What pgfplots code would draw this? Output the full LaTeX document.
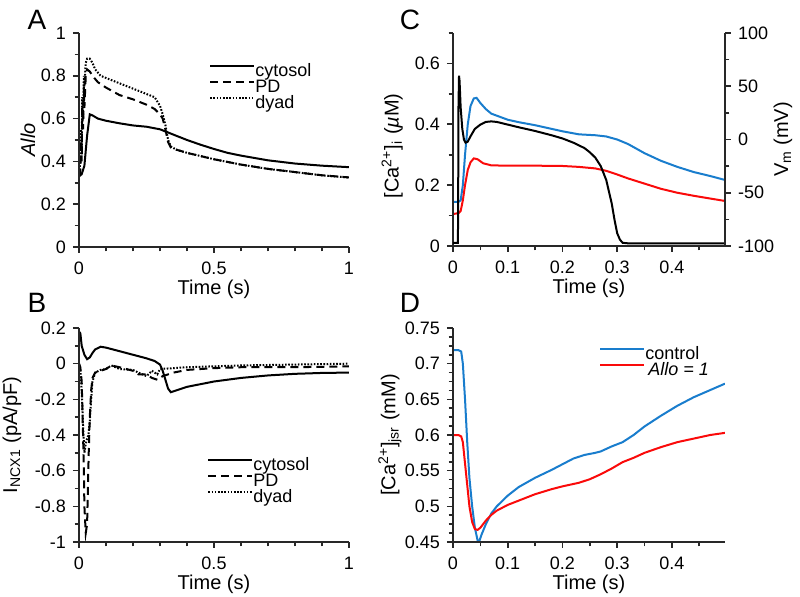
\documentclass[border=0pt]{standalone}
\usepackage{pgfplots}
\pgfplotsset{compat=1.18}
\usepackage{fontspec}
\setmainfont{Liberation Sans}
\definecolor{mblue}{RGB}{25,125,205}
\definecolor{mred}{RGB}{250,10,10}
\definecolor{axgray}{RGB}{40,40,40}
\pgfplotsset{
  every axis/.append style={
    scale only axis,
    anchor=south west,
    axis line style={draw=none},
    xtick pos=left, ytick pos=left,
    tick align=outside,
    tick style={axgray, line width=0.8pt},
    major tick length=3pt,
    minor tick length=2.2pt,
    /pgf/number format/assume math mode=true,
    tick label style={font=\fontsize{9}{11}\selectfont},
    xticklabel style={yshift=-1pt},
    label style={font=\fontsize{10}{12}\selectfont},
    xlabel={Time (s)},
    xlabel style={yshift=4.5pt},
    ylabel style={anchor=center},
    legend cell align=left,
    legend image code/.code={\draw[#1] (0pt,2.8pt) -- (22pt,2.8pt);},
    legend style={draw=none, fill=none, font=\fontsize{9}{11}\selectfont,
      anchor=north west, row sep=0pt, inner sep=0pt,
      nodes={inner sep=0pt, text height=6.5pt, text depth=1.5pt, outer sep=0pt}},
  },
  lbaxes/.style={after end axis/.code={\draw[axgray, line width=0.7pt] (rel axis cs:0,1) -- (rel axis cs:0,0) -- (rel axis cs:1,0);}},
  sol/.style={black, line width=1pt},
  pd/.style={black, line width=1pt, dash pattern=on 4pt off 2.5pt},
  dy/.style={black, line width=1pt, dash pattern=on 0.8pt off 0.8pt},
}
\begin{document}
\begin{tikzpicture}
\useasboundingbox (0,0) rectangle (400pt,298pt);

% ---------------- Panel A ----------------
\begin{axis}[lbaxes, at={(39.5pt,174.5pt)}, width=135pt, height=107pt,
  xmin=0, xmax=1, ymin=0, ymax=1,
  xtick={0,0.5,1}, minor xtick={0.1,0.2,0.3,0.4,0.6,0.7,0.8,0.9},
  ytick={0,0.2,0.4,0.6,0.8,1}, minor ytick={0.1,0.3,0.5,0.7,0.9},
  ylabel={\textit{Allo}},
  ylabel style={at={(axis description cs:-0.189,0.5)}},
  legend style={at={(0.481,0.859)}},
]
\addplot[sol] coordinates {(0,0.33)(0.01,0.34)(0.02,0.38)(0.03,0.52)(0.04,0.62)(0.05,0.615)(0.07,0.60)(0.1,0.59)(0.15,0.578)(0.2,0.568)(0.25,0.562)(0.3,0.55)(0.32,0.54)(0.35,0.525)(0.4,0.5)(0.45,0.478)(0.5,0.458)(0.55,0.44)(0.6,0.427)(0.7,0.405)(0.8,0.39)(0.9,0.38)(1.0,0.373)};
\addlegendentry{cytosol}
\addplot[pd] coordinates {(0,0.33)(0.005,0.35)(0.008,0.5)(0.01,0.4)(0.012,0.65)(0.015,0.55)(0.018,0.75)(0.02,0.65)(0.025,0.8)(0.03,0.83)(0.04,0.82)(0.05,0.80)(0.07,0.77)(0.1,0.745)(0.15,0.71)(0.2,0.69)(0.25,0.665)(0.28,0.645)(0.3,0.62)(0.31,0.6)(0.32,0.55)(0.33,0.49)(0.34,0.465)(0.36,0.455)(0.4,0.44)(0.45,0.425)(0.5,0.41)(0.6,0.385)(0.7,0.365)(0.8,0.35)(0.9,0.335)(1.0,0.325)};
\addlegendentry{PD}
\addplot[dy] coordinates {(0,0.33)(0.005,0.4)(0.008,0.55)(0.01,0.45)(0.012,0.7)(0.015,0.6)(0.018,0.8)(0.02,0.75)(0.025,0.86)(0.03,0.88)(0.04,0.88)(0.05,0.86)(0.06,0.83)(0.08,0.8)(0.1,0.79)(0.15,0.765)(0.2,0.74)(0.25,0.715)(0.28,0.7)(0.3,0.66)(0.31,0.62)(0.32,0.57)(0.33,0.5)(0.34,0.47)(0.36,0.455)(0.4,0.44)(0.45,0.425)(0.5,0.41)(0.6,0.385)(0.7,0.365)(0.8,0.35)(0.9,0.335)(1.0,0.325)};
\addlegendentry{dyad}
\end{axis}

% ---------------- Panel B ----------------
\begin{axis}[lbaxes, at={(39.5pt,27pt)}, width=135pt, height=107pt,
  xmin=0, xmax=1, ymin=-1, ymax=0.2,
  xtick={0,0.5,1}, minor xtick={0.1,0.2,0.3,0.4,0.6,0.7,0.8,0.9},
  ytick={-1,-0.8,-0.6,-0.4,-0.2,0,0.2}, minor ytick={-0.9,-0.7,-0.5,-0.3,-0.1,0.1},
  ylabel={I\textsubscript{NCX1} (pA/pF)},
  ylabel style={at={(axis description cs:-0.248,0.5)}},
  legend style={at={(0.474,0.396)}},
]
\addplot[sol] coordinates {(0,0.18)(0.005,0.17)(0.01,0.1)(0.02,0.05)(0.03,0.025)(0.04,0.035)(0.05,0.06)(0.06,0.08)(0.08,0.095)(0.1,0.09)(0.15,0.07)(0.2,0.05)(0.25,0.03)(0.28,0.015)(0.3,-0.005)(0.31,-0.04)(0.32,-0.09)(0.33,-0.14)(0.34,-0.16)(0.36,-0.15)(0.4,-0.13)(0.45,-0.115)(0.5,-0.1)(0.6,-0.08)(0.7,-0.066)(0.8,-0.057)(0.9,-0.052)(1.0,-0.05)};
\addlegendentry{cytosol}
\addplot[pd] coordinates {(0,0)(0.005,-0.02)(0.01,-0.1)(0.015,-0.4)(0.018,-0.6)(0.02,-0.8)(0.025,-0.95)(0.03,-0.9)(0.033,-0.7)(0.036,-0.5)(0.04,-0.3)(0.045,-0.15)(0.05,-0.08)(0.06,-0.05)(0.08,-0.04)(0.1,-0.03)(0.12,-0.01)(0.15,-0.02)(0.2,-0.04)(0.22,-0.06)(0.25,-0.06)(0.27,-0.08)(0.29,-0.09)(0.31,-0.07)(0.35,-0.05)(0.4,-0.035)(0.5,-0.025)(0.6,-0.02)(0.8,-0.02)(1.0,-0.015)};
\addlegendentry{PD}
\addplot[dy] coordinates {(0,0)(0.005,-0.03)(0.01,-0.15)(0.015,-0.35)(0.02,-0.5)(0.025,-0.45)(0.03,-0.42)(0.035,-0.4)(0.04,-0.32)(0.045,-0.2)(0.05,-0.1)(0.06,-0.05)(0.08,-0.035)(0.1,-0.03)(0.12,-0.01)(0.15,-0.03)(0.2,-0.035)(0.22,-0.05)(0.25,-0.07)(0.27,-0.04)(0.29,-0.06)(0.3,-0.03)(0.35,-0.025)(0.4,-0.02)(0.5,-0.015)(0.6,-0.01)(0.8,-0.005)(1.0,0)};
\addlegendentry{dyad}
\end{axis}

% ---------------- Panel C ----------------
\begin{axis}[lbaxes, at={(226.5pt,175pt)}, width=136pt, height=106.5pt,
  xmin=0, xmax=0.497, ymin=0, ymax=0.7,
  xtick={0,0.1,0.2,0.3,0.4}, minor xtick={0.05,0.15,0.25,0.35,0.45},
  ytick={0,0.2,0.4,0.6}, minor ytick={0.1,0.3,0.5,0.7},
  ylabel={[Ca\textsuperscript{2+}]\textsubscript{i} ({\itshape µ}M)},
  ylabel style={at={(axis description cs:-0.224,0.47)}},
]
\addplot[mblue, line width=1pt] coordinates {(0,0.145)(0.01,0.145)(0.014,0.15)(0.018,0.2)(0.022,0.3)(0.027,0.4)(0.032,0.46)(0.038,0.485)(0.043,0.487)(0.05,0.47)(0.06,0.45)(0.07,0.435)(0.085,0.425)(0.1,0.415)(0.12,0.407)(0.15,0.397)(0.18,0.385)(0.2,0.377)(0.23,0.367)(0.26,0.364)(0.28,0.36)(0.3,0.35)(0.32,0.335)(0.35,0.305)(0.38,0.28)(0.41,0.26)(0.44,0.243)(0.47,0.23)(0.497,0.217)};
\addplot[mred, line width=1pt] coordinates {(0,0.105)(0.01,0.108)(0.014,0.115)(0.018,0.15)(0.022,0.2)(0.027,0.25)(0.032,0.275)(0.038,0.288)(0.045,0.285)(0.055,0.272)(0.07,0.265)(0.1,0.264)(0.15,0.264)(0.2,0.263)(0.23,0.26)(0.26,0.255)(0.28,0.247)(0.3,0.235)(0.32,0.222)(0.35,0.205)(0.38,0.188)(0.41,0.175)(0.44,0.165)(0.47,0.156)(0.497,0.148)};
\end{axis}
\begin{axis}[at={(226.5pt,175pt)}, width=136pt, height=106.5pt,
  xmin=0, xmax=0.497, ymin=-100, ymax=100,
  xtick=\empty, xlabel={},
  ytick pos=right, yticklabel pos=right,
  after end axis/.code={\draw[axgray, line width=0.7pt] (rel axis cs:1,0) -- (rel axis cs:1,1);},
  ytick={-100,-50,0,50,100}, minor ytick={-75,-25,25,75},
  ylabel={V\textsubscript{m} (mV)},
  ylabel style={at={(axis description cs:1.213,0.5)}, anchor=center},
]
\addplot[black, line width=1pt] coordinates {(0,-97)(0.009,-97)(0.0095,-50)(0.01,30)(0.011,60)(0.012,55)(0.014,30)(0.017,10)(0.02,0)(0.023,-3)(0.027,-2)(0.032,3)(0.04,10)(0.05,14)(0.06,16.5)(0.07,17)(0.08,16.5)(0.1,14)(0.12,11.5)(0.15,8)(0.18,4)(0.2,1)(0.22,-3)(0.24,-8)(0.25,-12)(0.26,-17)(0.27,-25)(0.28,-38)(0.29,-60)(0.295,-75)(0.3,-88)(0.305,-94)(0.31,-97)(0.32,-97.5)(0.497,-97.5)};
\end{axis}

% ---------------- Panel D ----------------
\begin{axis}[lbaxes, at={(226.5pt,27pt)}, width=136pt, height=107pt,
  xmin=0, xmax=0.497, ymin=0.45, ymax=0.75,
  xtick={0,0.1,0.2,0.3,0.4}, minor xtick={0.05,0.15,0.25,0.35,0.45},
  ytick={0.45,0.5,0.55,0.6,0.65,0.7,0.75}, minor tick num=3,
  yticklabels={0.45,0.5,0.55,0.6,0.65,0.7,0.75},
  ylabel={[Ca\textsuperscript{2+}]\textsubscript{jsr} (mM)},
  ylabel style={at={(axis description cs:-0.232,0.5)}},
  legend style={at={(0.537,0.916)}},
]
\addplot[mblue, line width=1pt] coordinates {(0,0.719)(0.01,0.719)(0.015,0.717)(0.018,0.7)(0.022,0.65)(0.026,0.59)(0.03,0.54)(0.035,0.5)(0.04,0.47)(0.045,0.452)(0.048,0.451)(0.052,0.46)(0.06,0.475)(0.07,0.49)(0.08,0.5)(0.1,0.515)(0.12,0.527)(0.15,0.54)(0.18,0.551)(0.2,0.559)(0.22,0.567)(0.24,0.572)(0.26,0.575)(0.27,0.577)(0.29,0.584)(0.31,0.59)(0.33,0.6)(0.35,0.612)(0.38,0.627)(0.41,0.641)(0.44,0.653)(0.47,0.663)(0.497,0.672)};
\addlegendentry{control}
\addplot[mred, line width=1pt] coordinates {(0,0.6)(0.01,0.6)(0.015,0.598)(0.018,0.59)(0.022,0.56)(0.026,0.53)(0.03,0.5)(0.035,0.478)(0.04,0.468)(0.045,0.467)(0.05,0.47)(0.06,0.48)(0.07,0.488)(0.08,0.494)(0.1,0.502)(0.12,0.508)(0.15,0.517)(0.18,0.524)(0.2,0.528)(0.23,0.533)(0.25,0.538)(0.27,0.545)(0.29,0.553)(0.31,0.562)(0.33,0.568)(0.35,0.575)(0.38,0.583)(0.41,0.59)(0.44,0.595)(0.47,0.6)(0.497,0.603)};
\addlegendentry{\,\textit{Allo = 1}}
\end{axis}

% panel letters
\node[font=\fontsize{14}{16}\selectfont] at (18.5pt,288pt) {A};
\node[font=\fontsize{14}{16}\selectfont] at (18.5pt,146.5pt) {B};
\node[font=\fontsize{14}{16}\selectfont] at (205pt,288pt) {C};
\node[font=\fontsize{14}{16}\selectfont] at (205pt,146.5pt) {D};
\end{tikzpicture}
\end{document}
